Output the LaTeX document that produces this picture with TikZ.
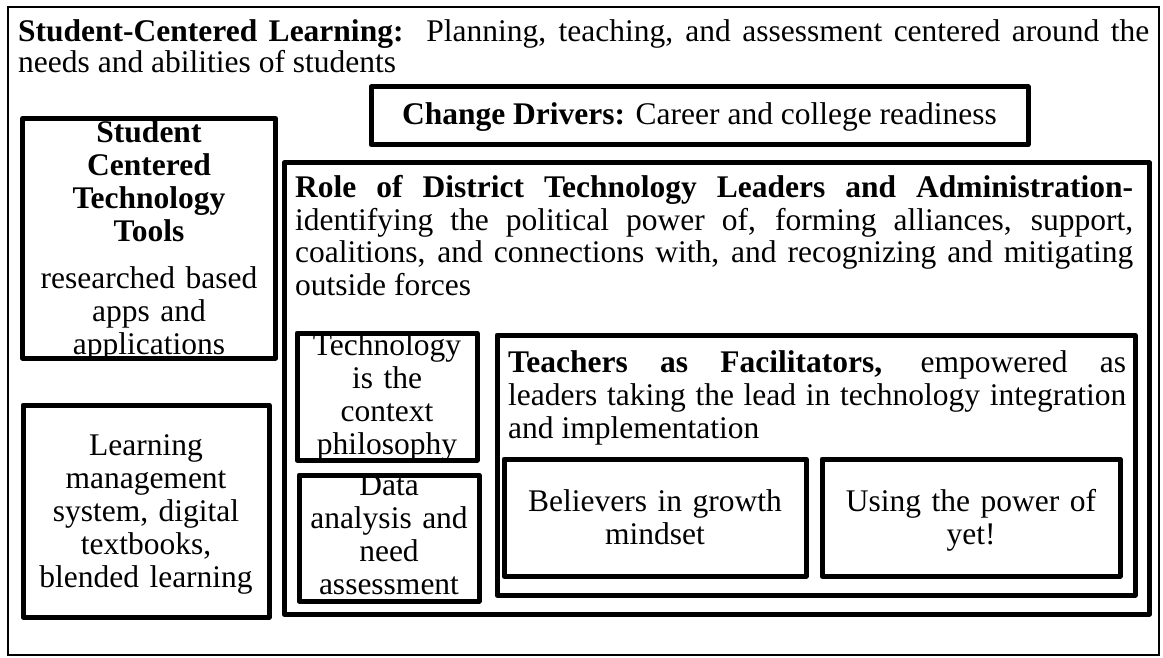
\documentclass[tikz,border=0pt]{standalone}
\usepackage{fontspec}
\setmainfont{Liberation Serif}
\usetikzlibrary{positioning}
\def\boxline{5pt}
\tikzset{
frame/.style={draw, line width=\boxline, line join=round, inner sep=0pt, outer sep=0pt, anchor=north west},
outerframe/.style={draw, line width=2.5pt, inner sep=0pt, outer sep=0pt, anchor=north west},
txt/.style={inner sep=0pt, align=center, anchor=base, font=\fontsize{31.5}{33}\selectfont},
para/.style={inner sep=0pt, align=justify, anchor=base west, font=\fontsize{31.5}{33}\selectfont},
}
\begin{document}
\begin{tikzpicture}[x=1pt, y=-1pt]
\useasboundingbox (0,0) rectangle (1163,658);
%Place the boxes
\node[outerframe, minimum width=1151, minimum height=648] (slc) at (8,7) {};
\node[para, text width=1131, font=\fontsize{31.5}{31}\selectfont] (slctext) at (18,42)
	{\textbf{Student-Centered Learning:}\ \ Planning, teaching, and assessment centered around the\linebreak needs and abilities of students};

\node[frame, minimum width=657, minimum height=57.5] (drivers) at (371,87) {};
\node[txt] (driverstext) at (699.5,125) {\textbf{Change Drivers:} Career and college readiness};

\node[frame, minimum width=253, minimum height=239.5] (tools) at (22.5,118.5) {};
\node[txt, text width=245] (toolstext) at (149,143)
	{\textbf{Student\\ Centered\\ Technology\\ Tools}\\[14pt] researched based\\ apps and\\ applications};

\node[frame, minimum width=246, minimum height=212] (lms) at (23,405) {};
\node[txt, text width=240] (lmstext) at (146,455)
	{Learning\\ management\\ system, digital\\ textbooks,\\ blended learning};

\node[frame, minimum width=865.5, minimum height=451] (role) at (284,163) {};
\node[para, text width=838] (roletext) at (295,197)
	{\textbf{Role of District Technology Leaders and Administration-}\linebreak identifying the political power of, forming alliances, support,\linebreak coalitions, and connections with, and recognizing and mitigating\linebreak outside forces};

\node[frame, minimum width=180, minimum height=127] (context) at (297,333) {};
\node[txt, text width=180] (contexttext) at (387,355) {Technology\\ is the\\ context\\ philosophy};

\node[frame, minimum width=180, minimum height=126] (data) at (299,475) {};
\node[txt, text width=180] (datatext) at (389,495) {Data\\ analysis and\\ need\\ assessment};

\node[frame, minimum width=638, minimum height=260] (teachers) at (497,335) {};
\node[para, text width=618] (teacherstext) at (508,372)
	{\textbf{Teachers as Facilitators,} empowered as\linebreak leaders taking the lead in technology integration\linebreak and implementation};

\node[frame, minimum width=302, minimum height=117] (growth) at (504,459) {};
\node[txt, text width=290] (growthtext) at (655,511) {Believers in growth\\ mindset};

\node[frame, minimum width=298, minimum height=117, right=16pt of growth] (yet) {};
\node[txt, text width=290] (yettext) at (971,511) {Using the power of\\ yet!};
\end{tikzpicture}
\end{document}
